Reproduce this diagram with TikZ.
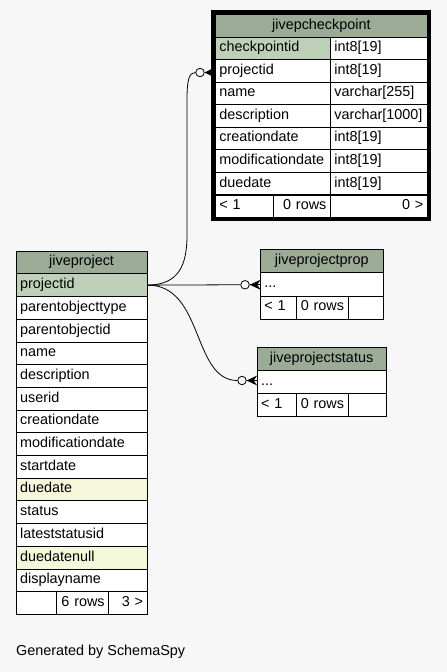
\documentclass[tikz,border=0pt]{standalone}
\usepackage{fontspec}
\setmainfont{Liberation Sans}
\definecolor{bg}{HTML}{F7F7F7}
\definecolor{headbg}{HTML}{9BAB96}
\definecolor{keybg}{HTML}{BED1B8}
\definecolor{idxbg}{HTML}{F4F7DA}

\begin{document}
\begin{tikzpicture}[x=1pt, y=-1pt, font=\fontsize{14.4}{17}\selectfont,
  cell/.style={draw, line width=0.8pt, fill=white, anchor=north west, inner sep=4pt, text height=10pt, text depth=3pt, align=left},
  title/.style={cell, fill=headbg, align=center},
  pk/.style={fill=keybg},
  ix/.style={fill=idxbg},
  num/.style={align=right},
  proj/.style={cell, text width=123pt, minimum height=22.7pt},
  cname/.style={cell, text width=107pt, minimum height=22.56pt},
  ctype/.style={cell, text width=89pt, minimum height=22.56pt},
  small/.style={cell, minimum height=23.1pt},
  dot/.style={circle, draw, line width=0.8pt, fill=bg, inner sep=0pt, minimum size=8.5pt},
  link/.style={line width=0.8pt}]
\fill[bg] (0,0) rectangle (447,672);
\useasboundingbox (0,0) rectangle (447,672);

% jivepcheckpoint
\node[cell, title, text width=204pt, minimum height=22.56pt] (cp) at (215,14) {jivepcheckpoint};
\node[cname, pk] (cp-checkpointid) at (215,36.6) {checkpointid};
\node[ctype] (cp-checkpointid-t) at (330,36.6) {int8[19]};
\node[cname] (cp-projectid) at (215,59.1) {projectid};
\node[ctype] (cp-projectid-t) at (330,59.1) {int8[19]};
\node[cname] (cp-name) at (215,81.7) {name};
\node[ctype] (cp-name-t) at (330,81.7) {varchar[255]};
\node[cname] (cp-description) at (215,104.2) {description};
\node[ctype] (cp-description-t) at (330,104.2) {varchar[1000]};
\node[cname] (cp-creationdate) at (215,126.8) {creationdate};
\node[ctype] (cp-creationdate-t) at (330,126.8) {int8[19]};
\node[cname] (cp-modificationdate) at (215,149.4) {modificationdate};
\node[ctype] (cp-modificationdate-t) at (330,149.4) {int8[19]};
\node[cname] (cp-duedate) at (215,171.9) {duedate};
\node[ctype] (cp-duedate-t) at (330,171.9) {int8[19]};
\node[cell, text width=50pt, minimum height=22.56pt] (cp-f1) at (215,194.5) {< 1};
\node[cell, num, text width=49pt, minimum height=22.56pt] (cp-f2) at (273,194.5) {0 rows};
\node[ctype, num] (cp-f3) at (330,194.5) {0 >};
\draw[line width=4pt] (213,12) rectangle (429,219);

% jiveproject
\node[proj, title] (jp) at (15.7,250.7) {jiveproject};
\node[proj, pk] (jp-projectid) at (15.7,273.4) {projectid};
\node[proj] (jp-parentobjecttype) at (15.7,296.1) {parentobjecttype};
\node[proj] (jp-parentobjectid) at (15.7,318.8) {parentobjectid};
\node[proj] (jp-name) at (15.7,341.5) {name};
\node[proj] (jp-description) at (15.7,364.2) {description};
\node[proj] (jp-userid) at (15.7,386.9) {userid};
\node[proj] (jp-creationdate) at (15.7,409.6) {creationdate};
\node[proj] (jp-modificationdate) at (15.7,432.3) {modificationdate};
\node[proj] (jp-startdate) at (15.7,455.0) {startdate};
\node[proj, ix] (jp-duedate) at (15.7,477.7) {duedate};
\node[proj] (jp-status) at (15.7,500.4) {status};
\node[proj] (jp-lateststatusid) at (15.7,523.1) {lateststatusid};
\node[proj, ix] (jp-duedatenull) at (15.7,545.8) {duedatenull};
\node[proj] (jp-displayname) at (15.7,568.5) {displayname};
\node[cell, text width=32pt, minimum height=22.7pt] (jp-f1) at (15.7,591.2) {};
\node[cell, num, text width=44.6pt, minimum height=22.7pt] (jp-f2) at (55.7,591.2) {6 rows};
\node[cell, num, text width=30.4pt, minimum height=22.7pt] (jp-f3) at (108.3,591.2) {3 >};

% jiveprojectprop
\node[small, title, text width=114.7pt] (pp) at (260,249.3) {jiveprojectprop};
\node[small, text width=114.7pt] (pp-row) at (260,272.4) {...};
\node[small, text width=27.7pt] (pp-f1) at (260,295.5) {< 1};
\node[small, num, text width=44pt] (pp-f2) at (295.7,295.5) {0 rows};
\node[small, text width=27pt] (pp-f3) at (347.7,295.5) {};

% jiveprojectstatus
\node[small, title, text width=121pt] (ps) at (256.7,346.7) {jiveprojectstatus};
\node[small, text width=121pt] (ps-row) at (256.7,369.8) {...};
\node[small, text width=31pt] (ps-f1) at (256.7,392.9) {< 1};
\node[small, num, text width=44pt] (ps-f2) at (295.7,392.9) {0 rows};
\node[small, text width=30pt] (ps-f3) at (347.7,392.9) {};

% links
\node[dot] (o1) at (200,72.5) {};
\node[dot] (o2) at (245,284.75) {};
\node[dot] (o3) at (242,380.5) {};
\draw[link] (jp-projectid.east) .. controls (179,284.75) and (187,265) .. (187,235) -- (187,100) .. controls (187,80) and (189,72.5) .. (o1.west);
\draw[link] (jp-projectid.east) -- (o2.west);
\draw[link] (jp-projectid.east) .. controls (204,284.75) and (192,380.5) .. (o3.west);
\draw[link] (o1.east) -- ++(9,0);
\fill (o1.east) -- ++(9,-4.5) -- ++(-3,4.5) -- ++(3,4.5) -- cycle;
\draw[link] (o2.east) -- (pp-row.west |- o2.east);
\fill (o2.east) -- ++(11,-5) -- ++(-3.5,5) -- ++(3.5,5) -- cycle;
\draw[link] (o3.east) -- (ps-row.west |- o3.east);
\fill (o3.east) -- ++(10.5,-5) -- ++(-3.5,5) -- ++(3.5,5) -- cycle;

\node[anchor=base west, inner sep=0pt] (gen) at (16,655) {Generated by SchemaSpy};
\end{tikzpicture}
\end{document}
